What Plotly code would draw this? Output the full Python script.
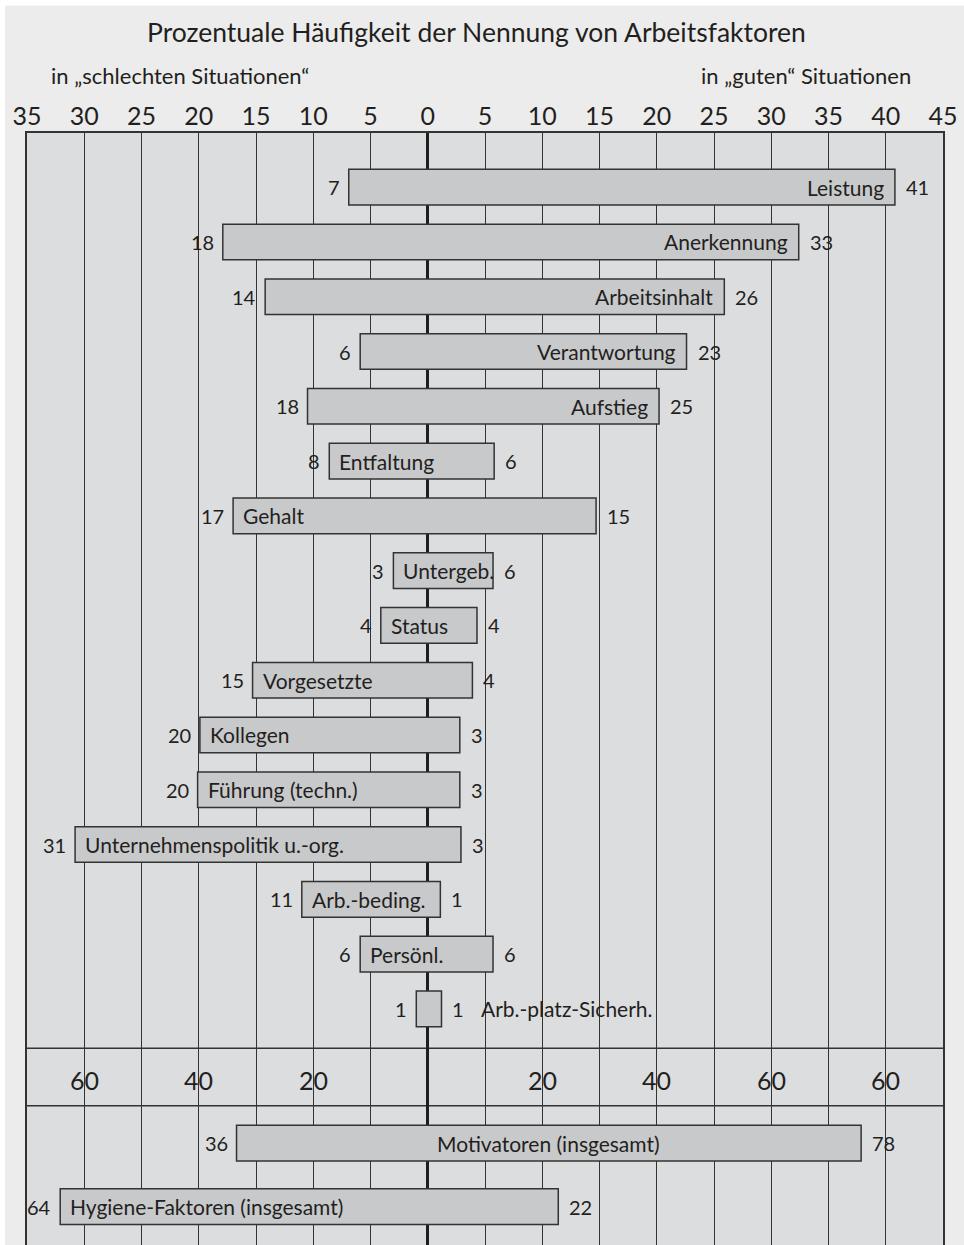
import plotly.graph_objects as go

# ---------------- data ----------------
factors = ["Leistung", "Anerkennung", "Arbeitsinhalt", "Verantwortung", "Aufstieg",
           "Entfaltung", "Gehalt", "Untergeb.", "Status", "Vorgesetzte", "Kollegen",
           "Führung (techn.)", "Unternehmenspolitik u.-org.", "Arb.-beding.",
           "Persönl.", "Arb.-platz-Sicherh."]
# drawn bar extents (percent), bad situations to the left, good to the right
bad_drawn = [6.9, 17.9, 14.2, 5.9, 10.5, 8.6, 17.0, 3.0, 4.1, 15.3, 19.9, 20.1, 30.8, 11.0, 5.9, 1.0]
good_drawn = [40.8, 32.4, 25.9, 22.6, 20.2, 5.8, 14.7, 5.7, 4.3, 3.9, 2.8, 2.8, 2.9, 1.1, 5.7, 1.2]
# printed numbers
bad_text = ["7", "18", "14", "6", "18", "8", "17", "3", "4", "15", "20", "20", "31", "11", "6", "1"]
good_text = ["41", "33", "26", "23", "25", "6", "15", "6", "4", "4", "3", "3", "3", "1", "6", "1"]

summary = ["Motivatoren (insgesamt)", "Hygiene-Faktoren (insgesamt)"]
summary_bad_drawn = [33.4, 64.2]
summary_good_drawn = [75.7, 22.8]
summary_bad_text = ["36", "64"]
summary_good_text = ["78", "22"]

top_tick_vals = [-35, -30, -25, -20, -15, -10, -5, 0, 5, 10, 15, 20, 25, 30, 35, 40, 45]
top_tick_text = ["35", "30", "25", "20", "15", "10", "5", "0", "5", "10", "15", "20",
                 "25", "30", "35", "40", "45"]
band_tick_vals = [-60, -40, -20, 20, 40, 60, 80]
band_tick_text = ["60", "40", "20", "20", "40", "60", "60"]

# ---------------- layout constants ----------------
label_place = ["end", "end", "end", "end", "end", "start", "start", "start", "start",
               "start", "start", "start", "start", "start", "start", "outside"]
summary_place = ["center", "start"]
row_pos = list(range(len(factors)))
summary_pos = [17.45, 18.61]
band_lines = [15.72, 16.77]
band_label_pos = 16.30
Y_RANGE = [19.31, -0.989]
BAR_W = 0.65

FONT = "Lato"
TXT = "#231f20"
GRID = "#333333"
BAR_FILL = "#c8c9cb"
PLOT_BG = "#dcdddf"
PAPER_BG = "#ececec"

fig = go.Figure()

fig.add_trace(go.Bar(
    y=row_pos,
    x=[g + b for g, b in zip(good_drawn, bad_drawn)],
    base=[-b for b in bad_drawn],
    orientation="h", width=BAR_W,
    marker=dict(color=BAR_FILL, line=dict(color=GRID, width=1.5)),
    hoverinfo="skip", showlegend=False, xaxis="x", yaxis="y",
))
fig.add_trace(go.Bar(
    y=summary_pos,
    x=[g + b for g, b in zip(summary_good_drawn, summary_bad_drawn)],
    base=[-b for b in summary_bad_drawn],
    orientation="h", width=BAR_W,
    marker=dict(color=BAR_FILL, line=dict(color=GRID, width=1.5)),
    hoverinfo="skip", showlegend=False, xaxis="x2", yaxis="y",
))

ann = []
num_font = dict(family=FONT, size=20, color=TXT)
lab_font = dict(family=FONT, size=21, color=TXT)


def add_row(xref, y, bad, good, btxt, gtxt, name, place):
    ann.append(dict(x=-bad, y=y, xref=xref, yref="y", text=btxt, showarrow=False,
                    xanchor="right", yanchor="middle", xshift=-7, font=num_font))
    ann.append(dict(x=good, y=y, xref=xref, yref="y", text=gtxt, showarrow=False,
                    xanchor="left", yanchor="middle", xshift=9, font=num_font))
    if place == "end":
        ann.append(dict(x=good, y=y, xref=xref, yref="y", text=name, showarrow=False,
                        xanchor="right", yanchor="middle", xshift=-9, font=lab_font))
    elif place == "start":
        ann.append(dict(x=-bad, y=y, xref=xref, yref="y", text=name, showarrow=False,
                        xanchor="left", yanchor="middle", xshift=8, font=lab_font))
    elif place == "center":
        ann.append(dict(x=(good - bad) / 2, y=y, xref=xref, yref="y", text=name,
                        showarrow=False, xanchor="center", yanchor="middle", font=lab_font))
    else:
        ann.append(dict(x=good, y=y, xref=xref, yref="y", text=name, showarrow=False,
                        xanchor="left", yanchor="middle", xshift=38, font=lab_font))


for i, f in enumerate(factors):
    add_row("x", row_pos[i], bad_drawn[i], good_drawn[i], bad_text[i], good_text[i],
            f, label_place[i])
for i, s in enumerate(summary):
    add_row("x2", summary_pos[i], summary_bad_drawn[i], summary_good_drawn[i],
            summary_bad_text[i], summary_good_text[i], s, summary_place[i])

for v, t in zip(band_tick_vals, band_tick_text):
    ann.append(dict(x=v, y=band_label_pos, xref="x2", yref="y", text=t, showarrow=False,
                    xanchor="center", yanchor="middle",
                    font=dict(family=FONT, size=25, color=TXT)))

ann.append(dict(x=0.491, y=1.0905, xref="paper", yref="paper",
                text="Prozentuale Häufigkeit der Nennung von Arbeitsfaktoren",
                showarrow=False, xanchor="center", yanchor="middle",
                font=dict(family=FONT, size=26.5, color=TXT)))
ann.append(dict(x=0.0235, y=1.0513, xref="paper", yref="paper",
                text="in „schlechten Situationen“", showarrow=False,
                xanchor="left", yanchor="middle", font=dict(family=FONT, size=22, color=TXT)))
ann.append(dict(x=0.967, y=1.0513, xref="paper", yref="paper",
                text="in „guten“ Situationen", showarrow=False,
                xanchor="right", yanchor="middle", font=dict(family=FONT, size=22, color=TXT)))

shapes = [dict(type="line", xref="paper", yref="y", x0=0, x1=1, y0=yy, y1=yy,
               line=dict(color=GRID, width=1.5), layer="below") for yy in band_lines]
# white page edges (top and left strip)
shapes.append(dict(type="rect", xref="paper", yref="paper", x0=-0.05, x1=1.05,
                   y0=1.1147, y1=1.2, fillcolor="white", line=dict(width=0), layer="below"))
shapes.append(dict(type="rect", xref="paper", yref="paper", x0=-0.05, x1=-0.0240,
                   y0=-0.1, y1=1.2, fillcolor="white", line=dict(width=0), layer="below"))

fig.update_layout(
    width=964, height=1245,
    margin=dict(l=27, r=21, t=133, b=0, pad=0),
    paper_bgcolor=PAPER_BG, plot_bgcolor=PLOT_BG,
    barmode="overlay", showlegend=False,
    annotations=ann, shapes=shapes,
    font=dict(family=FONT, color=TXT),
    xaxis=dict(range=[-35, 45], side="top", tickvals=top_tick_vals, ticktext=top_tick_text,
               tickfont=dict(family=FONT, size=25, color=TXT),
               showgrid=True, gridcolor=GRID, gridwidth=1.4,
               zeroline=True, zerolinecolor="#1e1e1e", zerolinewidth=2.8,
               showline=True, mirror=False, linecolor=GRID, linewidth=1.5,
               ticks="", ticklabelstandoff=-4, fixedrange=True),
    xaxis2=dict(range=[-70, 90], overlaying="x", visible=False, fixedrange=True),
    yaxis=dict(range=Y_RANGE, showticklabels=False, showgrid=False, zeroline=False,
               showline=True, mirror=True, linecolor=GRID, linewidth=1.5, fixedrange=True),
)

fig.write_html("out.html", config={"displayModeBar": False},
               post_script="document.body.style.margin='0';")
